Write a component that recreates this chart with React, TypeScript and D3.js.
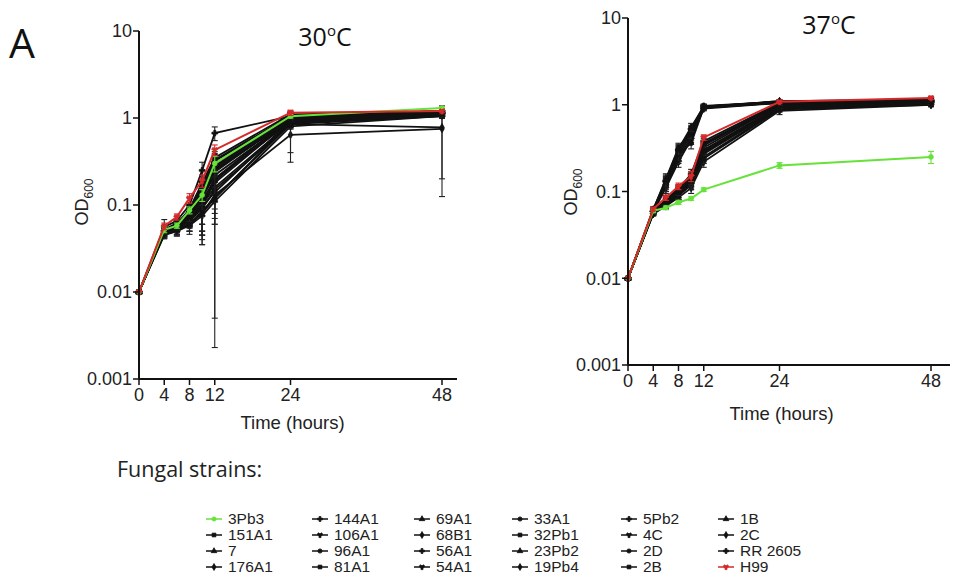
import React from 'react';
import * as d3 from 'd3';

const strains = ['3Pb3','151A1','7','176A1','144A1','106A1','96A1','81A1','69A1','68B1','56A1','54A1','33A1','32Pb1','23Pb2','19Pb4','5Pb2','4C','2D','2B','1B','2C','RR 2605','H99'];
const times = [0, 4, 6, 8, 10, 12, 24, 48];
const xTicks = [0, 4, 8, 12, 24, 48];
const yTicks = [0.001, 0.01, 0.1, 1, 10];
const yTickLabels = ['0.001', '0.01', '0.1', '1', '10'];

const od30 = [
  [0.01,0.052,0.058,0.087,0.13,0.30,1.05,1.30],
  [0.01,0.05,0.056,0.072,0.12,0.25,0.95,1.15],
  [0.01,0.048,0.052,0.066,0.10,0.20,0.90,1.10],
  [0.01,0.045,0.05,0.06,0.08,0.13,0.64,0.75],
  [0.01,0.056,0.066,0.10,0.25,0.67,1.05,1.20],
  [0.01,0.05,0.06,0.08,0.15,0.30,1.00,1.15],
  [0.01,0.052,0.058,0.075,0.12,0.22,0.95,1.10],
  [0.01,0.05,0.055,0.065,0.09,0.15,0.85,1.05],
  [0.01,0.05,0.06,0.085,0.16,0.33,1.05,1.20],
  [0.01,0.048,0.05,0.06,0.085,0.12,0.90,1.10],
  [0.01,0.05,0.057,0.07,0.11,0.20,1.00,1.15],
  [0.01,0.047,0.055,0.068,0.10,0.18,0.95,1.10],
  [0.01,0.052,0.06,0.08,0.14,0.28,1.05,1.20],
  [0.01,0.05,0.055,0.07,0.10,0.16,0.88,1.05],
  [0.01,0.049,0.056,0.072,0.12,0.24,1.00,1.15],
  [0.01,0.05,0.058,0.078,0.13,0.26,0.98,1.12],
  [0.01,0.046,0.05,0.058,0.075,0.11,0.80,1.05],
  [0.01,0.05,0.06,0.09,0.18,0.35,1.10,1.20],
  [0.01,0.048,0.054,0.066,0.095,0.14,0.92,1.08],
  [0.01,0.05,0.056,0.07,0.10,0.19,0.97,1.10],
  [0.01,0.052,0.062,0.085,0.17,0.32,1.05,1.18],
  [0.01,0.048,0.052,0.062,0.08,0.12,0.85,0.78],
  [0.01,0.05,0.058,0.075,0.14,0.27,1.02,1.15],
  [0.01,0.057,0.073,0.12,0.19,0.43,1.15,1.20],
];

const sd30 = [
  [0,0.004,0.004,0.008,0.02,0.06,0.05,0.05],
  [0,0.004,0.005,0.008,0.03,0.05,0.06,0.06],
  [0,0.005,0.006,0.01,0.05,0.06,0.08,0.06],
  [0,0.004,0.005,0.01,0.03,0.06,0.33,0.625],
  [0,0.012,0.008,0.02,0.06,0.12,0.1,0.08],
  [0,0.004,0.005,0.01,0.04,0.05,0.06,0.06],
  [0,0.005,0.006,0.012,0.06,0.06,0.08,0.06],
  [0,0.004,0.005,0.01,0.045,0.06,0.1,0.06],
  [0,0.004,0.005,0.01,0.03,0.06,0.06,0.06],
  [0,0.005,0.006,0.01,0.04,0.115,0.08,0.06],
  [0,0.004,0.005,0.01,0.05,0.06,0.06,0.06],
  [0,0.005,0.006,0.012,0.06,0.05,0.08,0.06],
  [0,0.004,0.005,0.01,0.03,0.06,0.06,0.06],
  [0,0.005,0.006,0.012,0.05,0.1,0.1,0.06],
  [0,0.004,0.005,0.01,0.04,0.05,0.06,0.06],
  [0,0.004,0.005,0.01,0.04,0.06,0.06,0.06],
  [0,0.005,0.006,0.012,0.04,0.05,0.4,0.06],
  [0,0.004,0.005,0.01,0.04,0.06,0.06,0.06],
  [0,0.005,0.006,0.012,0.05,0.06,0.08,0.06],
  [0,0.004,0.005,0.01,0.04,0.06,0.06,0.06],
  [0,0.004,0.005,0.01,0.04,0.06,0.06,0.06],
  [0,0.005,0.006,0.012,0.045,0.1177,0.1,0.58],
  [0,0.004,0.005,0.01,0.04,0.06,0.06,0.06],
  [0,0.005,0.006,0.015,0.03,0.06,0.08,0.05],
];

const od37 = [
  [0.01,0.06,0.065,0.075,0.083,0.105,0.20,0.25],
  [0.01,0.062,0.13,0.28,0.48,0.95,1.08,1.10],
  [0.01,0.058,0.075,0.10,0.13,0.30,0.95,1.05],
  [0.01,0.056,0.07,0.09,0.12,0.25,0.90,1.00],
  [0.01,0.06,0.12,0.30,0.52,0.97,1.08,1.05],
  [0.01,0.058,0.11,0.22,0.40,0.92,1.05,1.08],
  [0.01,0.06,0.08,0.11,0.15,0.35,1.02,1.12],
  [0.01,0.057,0.072,0.095,0.14,0.28,0.95,1.05],
  [0.01,0.062,0.14,0.32,0.50,0.94,1.10,1.12],
  [0.01,0.055,0.068,0.085,0.11,0.22,0.85,1.00],
  [0.01,0.06,0.078,0.105,0.16,0.38,1.05,1.15],
  [0.01,0.058,0.074,0.10,0.14,0.32,1.00,1.10],
  [0.01,0.06,0.125,0.26,0.45,0.93,1.06,1.10],
  [0.01,0.057,0.07,0.09,0.125,0.27,0.92,1.02],
  [0.01,0.059,0.076,0.105,0.15,0.34,1.00,1.10],
  [0.01,0.061,0.115,0.24,0.42,0.90,1.05,1.08],
  [0.01,0.06,0.13,0.29,0.47,0.96,1.07,1.12],
  [0.01,0.058,0.073,0.095,0.13,0.30,0.97,1.08],
  [0.01,0.06,0.12,0.27,0.36,0.92,1.06,1.05],
  [0.01,0.056,0.07,0.09,0.12,0.24,0.88,1.02],
  [0.01,0.062,0.135,0.31,0.55,0.95,1.10,1.15],
  [0.01,0.057,0.072,0.092,0.13,0.29,0.95,1.05],
  [0.01,0.059,0.077,0.10,0.14,0.36,1.03,1.12],
  [0.01,0.063,0.085,0.115,0.15,0.42,1.08,1.20],
];

const sd37 = [
  [0,0.003,0.003,0.004,0.004,0.005,0.015,0.04],
  [0,0.004,0.02,0.04,0.06,0.05,0.04,0.05],
  [0,0.003,0.006,0.01,0.015,0.03,0.05,0.05],
  [0,0.003,0.006,0.01,0.015,0.03,0.06,0.05],
  [0,0.004,0.02,0.04,0.06,0.05,0.04,0.05],
  [0,0.004,0.02,0.03,0.05,0.05,0.05,0.05],
  [0,0.003,0.006,0.01,0.02,0.03,0.05,0.05],
  [0,0.003,0.006,0.01,0.015,0.03,0.05,0.05],
  [0,0.004,0.02,0.04,0.06,0.05,0.04,0.05],
  [0,0.003,0.006,0.01,0.015,0.03,0.08,0.05],
  [0,0.003,0.006,0.01,0.02,0.03,0.05,0.05],
  [0,0.003,0.006,0.01,0.02,0.03,0.05,0.05],
  [0,0.004,0.02,0.04,0.06,0.05,0.04,0.05],
  [0,0.003,0.006,0.01,0.015,0.03,0.05,0.05],
  [0,0.003,0.006,0.01,0.02,0.03,0.05,0.05],
  [0,0.004,0.02,0.03,0.05,0.05,0.05,0.05],
  [0,0.004,0.02,0.04,0.06,0.05,0.04,0.05],
  [0,0.003,0.006,0.01,0.015,0.03,0.05,0.05],
  [0,0.004,0.02,0.04,0.05,0.05,0.05,0.05],
  [0,0.003,0.006,0.01,0.015,0.03,0.06,0.05],
  [0,0.004,0.02,0.04,0.06,0.05,0.04,0.05],
  [0,0.003,0.006,0.01,0.015,0.03,0.05,0.05],
  [0,0.003,0.006,0.01,0.02,0.03,0.05,0.05],
  [0,0.003,0.006,0.01,0.02,0.03,0.05,0.05],
];

const GREEN = '#66e23a';
const RED = '#d42a2a';
const BLACK = '#111111';
const SYMS = [d3.symbolCircle, d3.symbolSquare, d3.symbolTriangle, d3.symbolDiamond, d3.symbolCross, d3.symbolWye];
const colorOf = (i: number) => (strains[i] === '3Pb3' ? GREEN : strains[i] === 'H99' ? RED : BLACK);
const symOf = (i: number) => SYMS[i % SYMS.length];

const NUM_FONT = '"Liberation Sans", Arial, sans-serif';
const TITLE_FONT = '"Open Sans", "Noto Sans", sans-serif';

type PanelProps = {
  od: number[][]; sd: number[][]; title: string; xr: [number, number]; xEnd: number; yr: [number, number];
  titleX: number; titleY: number; timeY: number; odX: number; odY: number;
};

function Panel({ od, sd, title, xr, xEnd, yr, titleX, titleY, timeY, odX, odY }: PanelProps) {
  const x = d3.scaleLinear().domain([0, 48]).range(xr);
  const y = d3.scaleLog().domain([0.001, 10]).range(yr);
  const line = d3.line<number>().x((_, k) => x(times[k])).y((v) => y(v));
  const idx = strains.map((_, i) => i);
  const order = idx.filter((i) => colorOf(i) === BLACK)
    .concat(idx.filter((i) => colorOf(i) === GREEN))
    .concat(idx.filter((i) => colorOf(i) === RED));
  const x0 = xr[0];
  const yBase = yr[0];
  return (
    <g>
      {order.map((i) => {
        const c = colorOf(i);
        const sym = d3.symbol().type(symOf(i)).size(18)();
        return (
          <g key={i}>
            {od[i].map((v, k) => {
              const e = sd[i][k];
              if (!e) return null;
              const lo = Math.max(0.001, v - e);
              const hi = v + e;
              const cx = x(times[k]);
              return (
                <g key={k} stroke={c === BLACK ? '#222' : c} strokeWidth={1.1}>
                  <line x1={cx} x2={cx} y1={y(lo)} y2={y(hi)} />
                  <line x1={cx - 3} x2={cx + 3} y1={y(lo)} y2={y(lo)} />
                  <line x1={cx - 3} x2={cx + 3} y1={y(hi)} y2={y(hi)} />
                </g>
              );
            })}
            <path d={line(od[i]) || ''} fill="none" stroke={c} strokeWidth={c === BLACK ? 1.8 : 2} />
            {od[i].map((v, k) => (
              <path key={k} d={sym || ''} transform={`translate(${x(times[k])},${y(v)})`} fill={c} stroke={c} strokeWidth={0.8} />
            ))}
          </g>
        );
      })}
      <line x1={x0} x2={x0} y1={yr[1]} y2={yBase} stroke="#111" strokeWidth={2} />
      <line x1={x0} x2={xEnd} y1={yBase} y2={yBase} stroke="#111" strokeWidth={2} />
      {yTicks.map((t, k) => (
        <g key={t}>
          <line x1={x0 - 6} x2={x0} y1={y(t)} y2={y(t)} stroke="#111" strokeWidth={1.5} />
          <text x={x0 - 7} y={y(t)} dy="0.35em" textAnchor="end" fontFamily={NUM_FONT} fontSize={18} fill="#222">{yTickLabels[k]}</text>
        </g>
      ))}
      {xTicks.map((t) => (
        <g key={t}>
          <line x1={x(t)} x2={x(t)} y1={yBase} y2={yBase + 6} stroke="#111" strokeWidth={1.5} />
          <text x={x(t)} y={yBase + 22} textAnchor="middle" fontFamily={NUM_FONT} fontSize={18} fill="#222">{t}</text>
        </g>
      ))}
      <text x={(x(0) + x(48)) / 2 + 2} y={timeY} textAnchor="middle" fontFamily={NUM_FONT} fontSize={18.5} fill="#222">Time (hours)</text>
      <text transform={`translate(${odX},${odY}) rotate(-90)`} textAnchor="middle" fontFamily={NUM_FONT} fontSize={18} fill="#222">
        OD<tspan fontSize={12} dy={5}>600</tspan>
      </text>
      <text x={titleX} y={titleY} textAnchor="middle" fontFamily={TITLE_FONT} fontSize={25} fill="#111">
        {title}<tspan fontSize={15} dy={-10}>o</tspan><tspan dy={10}>C</tspan>
      </text>
    </g>
  );
}

export default function App() {
  const legendX = [228, 334, 436, 534, 643, 740];
  const legendY0 = 524;
  const legendDy = 16;
  return (
    <svg width={954} height={588} style={{ position: 'absolute', left: 0, top: 0, background: '#fff' }}>
      <rect width={954} height={588} fill="#fff" />
      <text x={9} y={58} fontFamily={TITLE_FONT} fontSize={41} fill="#111">A</text>
      <Panel od={od30} sd={sd30} title="30" xr={[139, 442]} xEnd={457} yr={[379, 31]}
        titleX={325} titleY={46} timeY={429} odX={88} odY={202} />
      <Panel od={od37} sd={sd37} title="37" xr={[628, 931]} xEnd={950} yr={[365, 18]}
        titleX={829} titleY={34} timeY={420} odX={577} odY={192} />
      <text x={117} y={477} fontFamily={TITLE_FONT} fontSize={21.5} fill="#222">Fungal strains:</text>
      {strains.map((s, i) => {
        const col = Math.floor(i / 4);
        const row = i % 4;
        const tx = legendX[col];
        const ty = legendY0 + row * legendDy;
        const c = colorOf(i);
        const sym = d3.symbol().type(symOf(i)).size(14)();
        return (
          <g key={s}>
            <line x1={tx - 22} x2={tx - 6} y1={ty - 5} y2={ty - 5} stroke={c} strokeWidth={1.5} />
            <path d={sym || ''} transform={`translate(${tx - 14},${ty - 5})`} fill={c} stroke={c} strokeWidth={0.8} />
            <text x={tx} y={ty} fontFamily={NUM_FONT} fontSize={15.5} fill="#222">{s}</text>
          </g>
        );
      })}
    </svg>
  );
}
